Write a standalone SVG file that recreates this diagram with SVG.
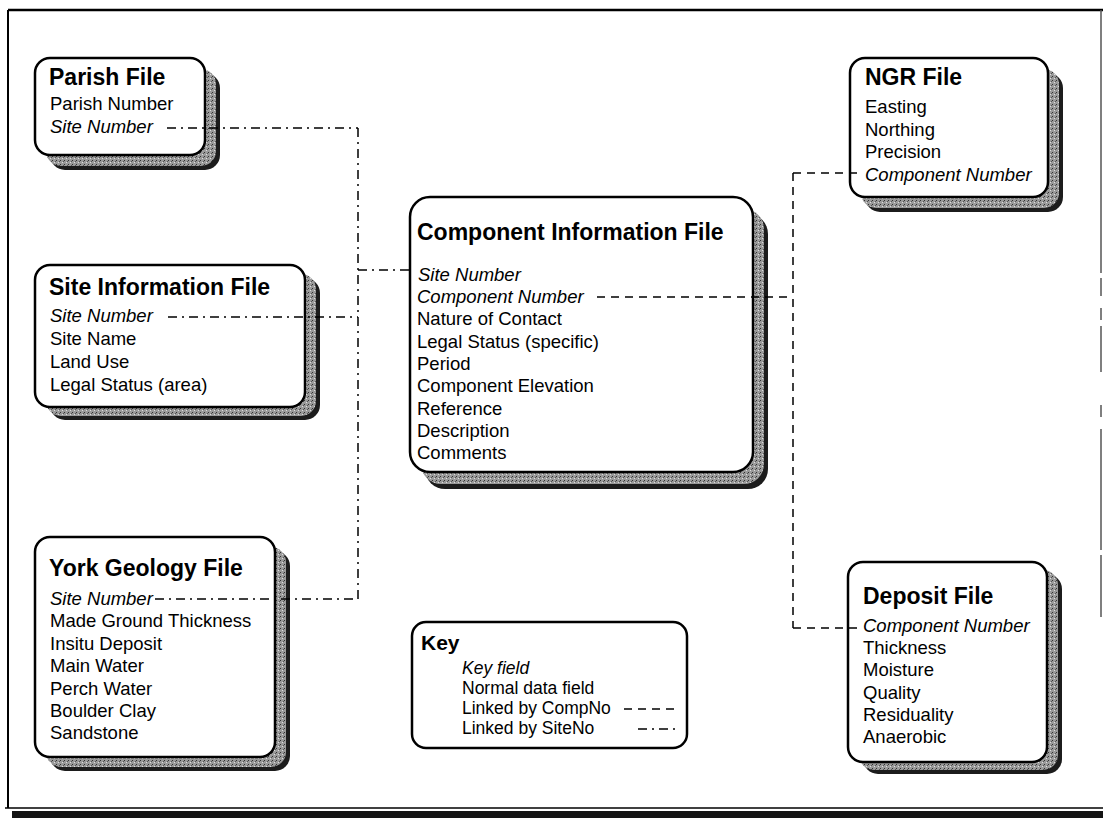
<svg xmlns="http://www.w3.org/2000/svg" width="1103" height="818" viewBox="0 0 1103 818">
<defs>
<pattern id="speck" width="4" height="4" patternUnits="userSpaceOnUse">
<rect width="4" height="4" fill="#9a9a9a"/>
<rect x="0" y="0" width="1" height="1" fill="#333"/>
<rect x="2" y="2" width="1" height="1" fill="#ddd"/>
<rect x="3" y="1" width="1" height="1" fill="#555"/>
</pattern>
<style>
.box{fill:#fff;stroke:#000;stroke-width:2.5}
.sh{fill:#1c1c1c}
.sp{fill:url(#speck)}
.t{font-family:"Liberation Sans",Arial,sans-serif;font-size:23px;font-weight:bold;fill:#000}
.b{font-family:"Liberation Sans",Arial,sans-serif;font-size:18.5px;fill:#000}
.kb{font-family:"Liberation Sans",Arial,sans-serif;font-size:17.5px;fill:#000}
.k{font-style:italic}
.comp{fill:none;stroke:#000;stroke-width:1.5;stroke-dasharray:8,6}
.site{fill:none;stroke:#000;stroke-width:1.5;stroke-dasharray:9,5,2,5}
.frame{fill:none;stroke:#000}
</style>
</defs>
<g id="frame">
<path class="frame" d="M8,10 H1103" stroke-width="2.5"/>
<path class="frame" d="M8,10 V808" stroke-width="2"/>
<path class="frame" d="M5,808 H1103" stroke-width="1.5"/>
<rect x="12" y="811" width="1091" height="7" fill="#141414"/>
<path d="M1101,10 V273 M1101,278 V296 M1101,308 V320 M1101,326 V372 M1101,405 V417 M1101,429 V550 M1101,555 V617" stroke="#555" stroke-width="1.5" fill="none"/>
</g>
<g id="parish">
<rect class="sh" x="50" y="73" width="170" height="97" rx="15"/>
<rect class="sp" x="46" y="69" width="170" height="97" rx="15"/>
<rect class="box" x="35" y="58" width="170" height="97" rx="15"/>
<text class="t" x="49" y="85">Parish File</text>
<text class="b" x="50" y="110">Parish Number</text>
<text class="b k" x="50" y="133">Site Number</text>
</g>
<g id="siteinfo">
<rect class="sh" x="50" y="278" width="270" height="142" rx="15"/>
<rect class="sp" x="46" y="274" width="270" height="142" rx="15"/>
<rect class="box" x="35" y="265" width="270" height="142" rx="15"/>
<text class="t" x="49" y="295">Site Information File</text>
<text class="b k" x="50" y="322">Site Number</text>
<text class="b" x="50" y="345">Site Name</text>
<text class="b" x="50" y="368">Land Use</text>
<text class="b" x="50" y="391">Legal Status (area)</text>
</g>
<g id="york">
<rect class="sh" x="50" y="551" width="240" height="220" rx="15"/>
<rect class="sp" x="46" y="547" width="240" height="220" rx="15"/>
<rect class="box" x="35" y="537" width="240" height="220" rx="15"/>
<text class="t" x="49" y="576">York Geology File</text>
<text class="b k" x="50" y="605">Site Number</text>
<text class="b" x="50" y="627">Made Ground Thickness</text>
<text class="b" x="50" y="650">Insitu Deposit</text>
<text class="b" x="50" y="672">Main Water</text>
<text class="b" x="50" y="695">Perch Water</text>
<text class="b" x="50" y="717">Boulder Clay</text>
<text class="b" x="50" y="739">Sandstone</text>
</g>
<g id="component">
<rect class="sh" x="425" y="214" width="343" height="275" rx="20"/>
<rect class="sp" x="421" y="209" width="343" height="275" rx="20"/>
<rect class="box" x="410" y="197" width="343" height="275" rx="20"/>
<text class="t" x="417" y="240">Component Information File</text>
<text class="b k" x="418" y="281">Site Number</text>
<text class="b k" x="417" y="303">Component Number</text>
<text class="b" x="417" y="325">Nature of Contact</text>
<text class="b" x="417" y="348">Legal Status (specific)</text>
<text class="b" x="417" y="370">Period</text>
<text class="b" x="417" y="392">Component Elevation</text>
<text class="b" x="417" y="415">Reference</text>
<text class="b" x="417" y="437">Description</text>
<text class="b" x="417" y="459">Comments</text>
</g>
<g id="ngr">
<rect class="sh" x="865" y="73" width="198" height="139" rx="15"/>
<rect class="sp" x="861" y="69" width="198" height="139" rx="15"/>
<rect class="box" x="850" y="58" width="198" height="139" rx="15"/>
<text class="t" x="865" y="85">NGR File</text>
<text class="b" x="865" y="113">Easting</text>
<text class="b" x="865" y="136">Northing</text>
<text class="b" x="865" y="158">Precision</text>
<text class="b k" x="865" y="181">Component Number</text>
</g>
<g id="deposit">
<rect class="sh" x="863" y="574" width="199" height="200" rx="15"/>
<rect class="sp" x="859" y="570" width="199" height="200" rx="15"/>
<rect class="box" x="848" y="562" width="199" height="200" rx="15"/>
<text class="t" x="863" y="604">Deposit File</text>
<text class="b k" x="863" y="632">Component Number</text>
<text class="b" x="863" y="654">Thickness</text>
<text class="b" x="863" y="676">Moisture</text>
<text class="b" x="863" y="699">Quality</text>
<text class="b" x="863" y="721">Residuality</text>
<text class="b" x="863" y="743">Anaerobic</text>
</g>
<g id="key">
<rect class="box" x="412" y="622" width="275" height="126" rx="14" stroke-width="2"/>
<text class="t" x="421" y="650" style="font-size:21px">Key</text>
<text class="kb k" x="462" y="674">Key field</text>
<text class="kb" x="462" y="694">Normal data field</text>
<text class="kb" x="462" y="714">Linked by CompNo</text>
<text class="kb" x="462" y="734">Linked by SiteNo</text>
<path class="comp" d="M624,709 H680"/>
<path class="site" d="M638,729 H680"/>
</g>
<g id="connectors">
<path class="site" d="M167,128 H358"/>
<path class="site" d="M358,128 V599"/>
<path class="site" d="M168,317 H358"/>
<path class="site" d="M155,599 H358"/>
<path class="site" d="M358,270 H414"/>
<path class="comp" d="M597,297 H793"/>
<path class="comp" d="M793,173 V628"/>
<path class="comp" d="M793,173 H862"/>
<path class="comp" d="M793,628 H860"/>
</g>
</svg>
